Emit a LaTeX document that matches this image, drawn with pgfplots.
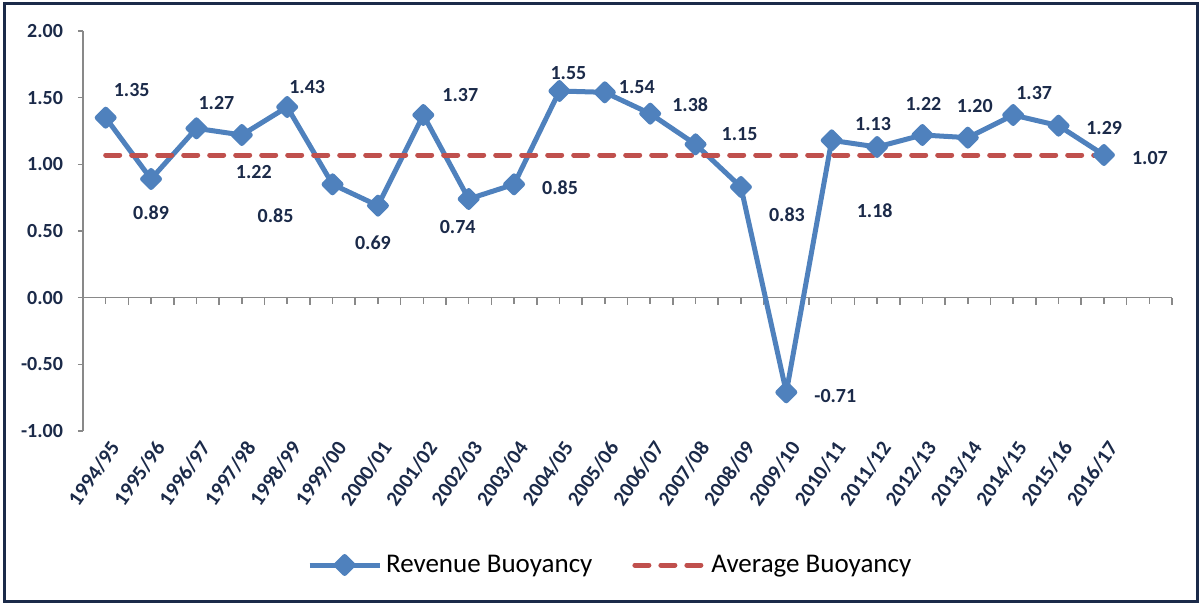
\documentclass[border=0pt]{standalone}
\usepackage{pgfplots}
\pgfplotsset{compat=1.18}
\usepackage{pgfplotstable}
\usepackage{fontspec}
\setmainfont{Carlito}
\definecolor{navy}{HTML}{1B2A49}
\definecolor{lblue}{HTML}{4F81BD}
\definecolor{lred}{HTML}{C0504D}
\definecolor{agray}{HTML}{898989}
\pgfplotsset{/pgf/number format/assume math mode=true}

\pgfplotstableread{
x y dx dy
0.5 1.35 13 14
1.5 0.89 0 -17
2.5 1.27 10 12.5
3.5 1.22 6 -18.5
4.5 1.43 10 10
5.5 0.85 -28.5 -15.5
6.5 0.69 -2.5 -18.5
7.5 1.37 18.5 10
8.5 0.74 -5.5 -14
9.5 0.85 23 -1.5
10.5 1.55 4.5 9
11.5 1.54 16 2.5
12.5 1.38 20 4.5
13.5 1.15 22 5
14.5 0.83 23 -14
15.5 -0.71 24.5 -2
16.5 1.18 21.5 -35
17.5 1.13 -2 11.5
18.5 1.22 0.5 15.5
19.5 1.20 3.5 16
20.5 1.37 10.5 11
21.5 1.29 22.8 -1
22.5 1.07 23 -1.5
}\buoy

\pgfplotstableread{
x y
0.5 1.07
22.5 1.07
}\avg

\begin{document}
\begin{tikzpicture}
\useasboundingbox (-41.5pt,-86.5pt) rectangle (559.5pt,215.5pt);
\draw[navy, line width=1.5pt] (-39.25pt,-85.25pt) rectangle (557.25pt,213.75pt);

% zero line with category ticks
\begin{axis}[
  at={(0pt,0pt)}, anchor=south west,
  scale only axis, width=544.5pt, height=200pt,
  xmin=0, xmax=24, ymin=-1, ymax=2,
  axis x line=middle, axis y line=none,
  axis line style={-, agray, line width=0.8pt},
  xtick={0,1,...,24}, minor xtick={0.5,1.5,...,23.5},
  xticklabels={}, ytick=\empty,
  tick align=outside, major tick length=3.5pt, minor tick length=3pt,
  every tick/.style={agray, line width=0.8pt},
  every minor tick/.style={agray, line width=0.8pt},
]
\addplot[draw=none] coordinates {(0,0)};
\end{axis}

\begin{axis}[
  at={(0pt,0pt)}, anchor=south west,
  scale only axis, width=544.5pt, height=200pt,
  xmin=0, xmax=24, ymin=-1, ymax=2,
  clip=false,
  axis x line*=bottom, axis y line*=left,
  x axis line style={draw=none},
  y axis line style={-, agray, line width=0.8pt},
  xtick={0.5,1.5,...,22.5},
  xticklabels={1994/95,1995/96,1996/97,1997/98,1998/99,1999/00,2000/01,2001/02,2002/03,2003/04,2004/05,2005/06,2006/07,2007/08,2008/09,2009/10,2010/11,2011/12,2012/13,2013/14,2014/15,2015/16,2016/17},
  x tick style={draw=none},
  ytick={-1,-0.5,0,0.5,1,1.5,2},
  y tick style={agray, line width=0.8pt},
  tick align=outside, major tick length=2.5pt,
  yticklabel style={/pgf/number format/fixed, /pgf/number format/fixed zerofill, /pgf/number format/precision=2, font=\bfseries\fontsize{10}{12}\selectfont, text=navy, xshift=-4pt},
  xticklabel style={rotate=55, anchor=east, font=\bfseries\fontsize{10.5}{12}\selectfont, text=navy, xshift=3pt, yshift=-6pt},
  legend style={at={(0.485,-0.335)}, anchor=center, draw=none, fill=none, legend columns=2,
    font=\fontsize{13.5}{16}\selectfont, text=black,
    /tikz/every even column/.append style={column sep=18pt}},
  legend image code/.code={\draw[mark repeat=2,mark phase=2,#1] plot coordinates {(0pt,0pt) (17.5pt,0pt) (35pt,0pt)};},
]
\addplot[lblue, line width=2.5pt, line join=round, mark=square*, mark size=3pt, mark options={rotate=45, solid}] table[x=x,y=y] {\buoy};
\addlegendentry{Revenue Buoyancy}
\addplot[lred, line width=2.5pt, line cap=round, dash pattern=on 7pt off 6pt] table[x=x,y=y] {\avg};
\addlegendentry{Average Buoyancy}
\addplot[draw=none, forget plot, point meta=y,
  visualization depends on={\thisrow{dx} \as \dx},
  visualization depends on={\thisrow{dy} \as \dy},
  nodes near coords={\pgfmathprintnumber[fixed,fixed zerofill,precision=2]{\pgfplotspointmeta}},
  every node near coord/.append style={anchor=center, xshift=\dx pt, yshift=\dy pt, font=\bfseries\fontsize{10}{12}\selectfont, text=navy},
] table[x=x,y=y] {\buoy};
\end{axis}
\end{tikzpicture}
\end{document}
